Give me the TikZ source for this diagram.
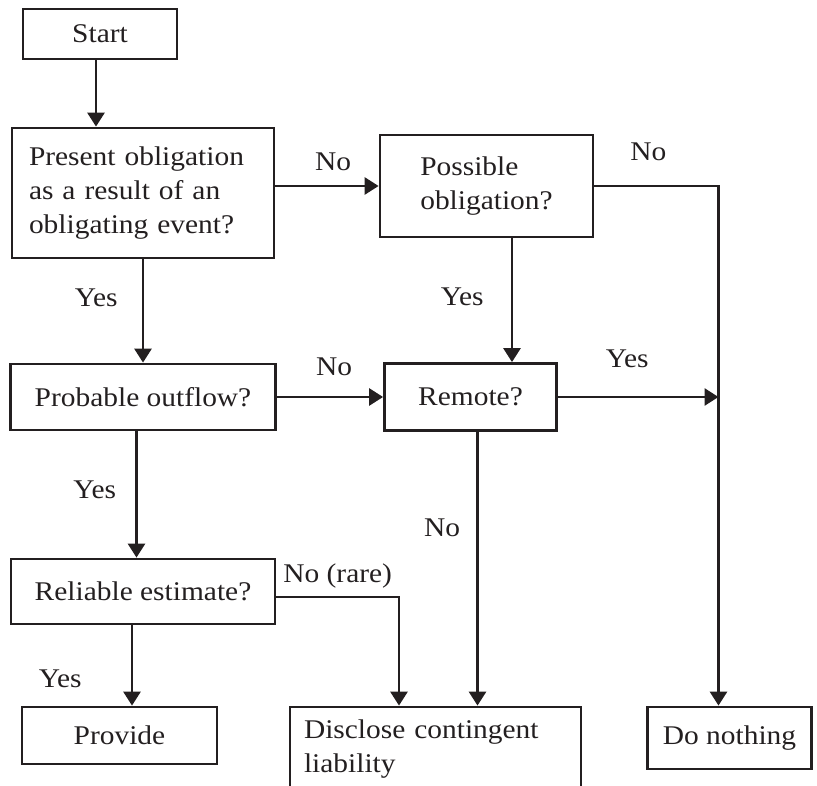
\documentclass[tikz,border=0pt]{standalone}
\usepackage{fontspec}
\setmainfont[FakeStretch=1.09]{Liberation Serif}
\usepackage{tikz}
\usetikzlibrary{positioning,arrows.meta}
\definecolor{ink}{HTML}{231F20}

\begin{document}
\begin{tikzpicture}[x=1pt,y=1pt,on grid,
	font=\fontsize{27}{34}\selectfont,
	box/.style={draw=ink,line width=2.8pt,inner sep=2pt,text=ink},
	line/.style={draw=ink,line width=2.8pt,-{Triangle[length=14pt,width=17pt]}},
	lbl/.style={text=ink,inner sep=1pt}]
	\useasboundingbox (0,0) rectangle (817,-786);

	\node[box,minimum width=154pt,minimum height=50pt] (start) at (100,-34) {Start};
	\node[box,minimum width=262pt,minimum height=130pt,text width=228pt,align=left] (present) [below right=159pt and 43pt of start] {Present obligation\\ as a result of an\\ obligating event?};
	\node[box,minimum width=213pt,minimum height=102pt,align=left] (possible) [above right=7pt and 343.5pt of present] {Possible\\ obligation?};
	\node[box,minimum width=265pt,minimum height=66pt] (probable) [below=204pt of present] {Probable outflow?};
	\node[box,minimum width=172pt,minimum height=67pt] (remote) [right=327.5pt of probable] {Remote?};
	\node[box,minimum width=264pt,minimum height=65pt] (reliable) [below=194.5pt of probable] {Reliable estimate?};
	\node[box,minimum width=195pt,minimum height=57pt] (provide) [below left=144pt and 23.5pt of reliable] {Provide};
	\node[box,minimum width=291pt,minimum height=84pt,text width=263pt,align=left] (disclose) [below right=157.5pt and 292.5pt of reliable] {Disclose contingent\\ liability};
	\node[box,minimum width=164pt,minimum height=62pt] (donothing) [below right=341pt and 259pt of remote] {Do nothing};
	\coordinate (rjoin) at ([xshift=-11pt]donothing.north);

	\draw[line] ([xshift=-4pt]start.south) -- ([xshift=-4pt]start.south |- present.north);
	\draw[line] (present.east |- possible.west) -- (possible.west)
		node[lbl,midway,above=13pt,xshift=6pt] (no1) {No};
	\draw[line] (possible.east) -| (rjoin)
		node[lbl,pos=0.25,above=23pt,xshift=-8pt] (no2) {No};
	\draw[line] ([xshift=25.5pt]possible.south) -- ([xshift=25.5pt]possible.south |- remote.north)
		node[lbl,pos=0.47,left=26pt] (yes1) {Yes};
	\draw[line] (present.south) -- (present.south |- probable.north)
		node[lbl,pos=0.37,left=23pt] (yes2) {Yes};
	\draw[line] (probable.east) -- (remote.west)
		node[lbl,midway,above=19pt,xshift=4pt] (no3) {No};
	\draw[line] (remote.east) -- (remote.east -| rjoin)
		node[lbl,midway,above=27pt,xshift=-11pt] (yes3) {Yes};
	\draw[line] ([xshift=-6.5pt]probable.south) -- ([xshift=-6.5pt]probable.south |- reliable.north)
		node[lbl,pos=0.46,left=18pt] (yes4) {Yes};
	\draw[line] ([xshift=-11pt]reliable.south) -- ([xshift=-11pt]reliable.south |- provide.north)
		node[lbl,pos=0.67,left=48pt] (yes5) {Yes};
	\draw[line] ([yshift=-5.5pt]reliable.east) -| ([xshift=-36.5pt]disclose.north)
		node[lbl,pos=0.25,above=6pt] (rare) {No (rare)};
	\draw[line] ([xshift=7pt]remote.south) -- ([xshift=7pt]remote.south |- disclose.north)
		node[lbl,pos=0.35,left=15pt] (no4) {No};
\end{tikzpicture}
\end{document}
